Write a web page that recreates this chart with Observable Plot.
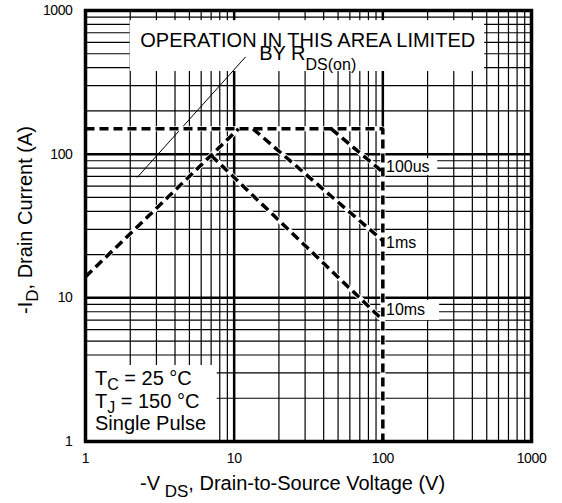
<!DOCTYPE html>
<html>
<head>
<meta charset="utf-8">
<script src="https://cdn.jsdelivr.net/npm/d3@7"></script>
<script src="https://cdn.jsdelivr.net/npm/@observablehq/plot@0.6"></script>
<style>
  html, body { margin: 0; padding: 0; background: #fff; }
  #chart svg text { white-space: pre; }
</style>
</head>
<body>
<div id="chart"></div>
<script>
// ---- axis / grid values ----
const decades = [1, 10, 100, 1000];
const minorMultipliers = [2, 3, 4, 5, 6, 7, 8, 9];
const xTicks = [1, 10, 100, 1000];
const yTicks = [1, 10, 100, 1000];

// ---- SOA boundary curves (V in volts, I in amps) ----
const limitV = [1, 100, 100];
const limitI = [150, 150, 1];
const rdsV = [1, 10.7];
const rdsI = [14, 150];
const ms10V = [7, 100];
const ms10I = [98, 7];
const ms1V = [13.4, 100];
const ms1I = [150, 25];
const us100V = [45, 100];
const us100I = [150, 75];

// ---- leader line for R_DS(on) note ----
const leaderV = [2.23, 11.9];
const leaderI = [69, 474];

// ---- curve labels ----
const curveLabels = ["100us", "1ms", "10ms"];
const curveLabelV = [105, 105, 105];
const curveLabelI = [82, 24.1, 8.2];
const labelBoxV1 = [102, 102, 102];
const labelBoxV2 = [234, 160, 241];
const labelBoxI1 = [93, 27.6, 9.6];
const labelBoxI2 = [71, 21, 6.95];

// ---- annotation boxes ----
const noteBoxV = [2.0, 484];
const noteBoxI = [850, 376];
const condBoxV = [1, 7.69];
const condBoxI = [1, 3.38];

// ---- annotation text anchors ----
const noteLine1 = "OPERATION IN THIS AREA LIMITED";
const noteV = 31.5;
const noteI = [552, 449];
const condV = 1.167;
const condI = [2.456, 1.71, 1.193];

// build tables
const minorValues = decades.slice(0, 3).flatMap(d => minorMultipliers.map(m => m * d));
const series = [
  {name: "limit", v: limitV, i: limitI},
  {name: "rds", v: rdsV, i: rdsI},
  {name: "10ms", v: ms10V, i: ms10I},
  {name: "1ms", v: ms1V, i: ms1I},
  {name: "100us", v: us100V, i: us100I}
];
const curveRows = series.flatMap(s => s.v.map((v, k) => ({name: s.name, v, i: s.i[k]})));
const leaderRows = leaderV.map((v, k) => ({v, i: leaderI[k]}));
const labelRows = curveLabels.map((t, k) => ({t, v: curveLabelV[k], i: curveLabelI[k]}));
const boxRows = [
  {x1: noteBoxV[0], x2: noteBoxV[1], y1: noteBoxI[0], y2: noteBoxI[1]},
  {x1: condBoxV[0], x2: condBoxV[1], y1: condBoxI[0], y2: condBoxI[1]},
  ...curveLabels.map((t, k) => ({x1: labelBoxV1[k], x2: labelBoxV2[k], y1: labelBoxI1[k], y2: labelBoxI2[k]}))
];

const FONT = "Arial, 'Liberation Sans', sans-serif";

const chart = Plot.plot({
  width: 562,
  height: 503,
  marginLeft: 85,
  marginRight: 31,
  marginTop: 10,
  marginBottom: 62,
  style: {fontFamily: FONT, fontSize: "14px", color: "#000", background: "#fff"},
  x: {type: "log", domain: [1, 1000], ticks: xTicks, tickFormat: d => String(d), label: null, tickSize: 0, tickPadding: 12},
  y: {type: "log", domain: [1, 1000], ticks: yTicks, tickFormat: d => String(d), label: null, tickSize: 0, tickPadding: 13},
  marks: [
    Plot.ruleX(minorValues, {stroke: "#000", strokeWidth: 1.2}),
    Plot.ruleY(minorValues, {stroke: "#000", strokeWidth: 1.2}),
    Plot.ruleX(decades, {stroke: "#000", strokeWidth: 2.5}),
    Plot.ruleY(decades, {stroke: "#000", strokeWidth: 2.5}),
    Plot.rect(boxRows, {x1: "x1", x2: "x2", y1: "y1", y2: "y2", fill: "#fff"}),
    Plot.line(leaderRows, {x: "v", y: "i", stroke: "#000", strokeWidth: 1}),
    Plot.line(curveRows, {x: "v", y: "i", z: "name", stroke: "#fff", strokeWidth: 5, strokeLinecap: "butt", strokeLinejoin: "miter"}),
    Plot.line(curveRows, {x: "v", y: "i", z: "name", stroke: "#000", strokeWidth: 3.5, strokeDasharray: "9,5", strokeLinecap: "butt", strokeLinejoin: "miter"}),
    Plot.text(labelRows, {x: "v", y: "i", text: "t", textAnchor: "start", fontSize: 16, fill: "#000"}),
    Plot.frame({stroke: "#000", strokeWidth: 3.5})
  ]
});

document.getElementById("chart").appendChild(chart);

const svg = d3.select(chart);
svg.selectAll("g[aria-label='x-axis tick label'] text, g[aria-label='y-axis tick label'] text")
  .attr("letter-spacing", "-0.4");

const sx = chart.scale("x");
const sy = chart.scale("y");
const g = svg.append("g").attr("font-family", FONT).attr("fill", "#000");

function richText(parent, x, y, parts, size, subSize, subShift, anchor, transform) {
  const t = parent.append("text")
    .attr("x", x).attr("y", y)
    .attr("font-size", size)
    .attr("text-anchor", anchor || "start")
    .attr("fill", "#000")
    .style("white-space", "pre");
  if (transform) t.attr("transform", transform);
  let shifted = 0;
  for (const [s, sub] of parts) {
    const ts = t.append("tspan").text(s);
    if (sub) {
      ts.attr("font-size", subSize).attr("dy", subShift - shifted);
      shifted = subShift;
    } else if (shifted) {
      ts.attr("dy", -shifted);
      shifted = 0;
    }
  }
  return t;
}

// R_DS(on) note
richText(g, sx.apply(noteV), sy.apply(noteI[0]), [[noteLine1, false]], 20, 16, 0, "middle");
richText(g, sx.apply(noteV), sy.apply(noteI[1]), [["BY R", false], ["DS(on)", true]], 20, 16, 10, "middle");

// test conditions
richText(g, sx.apply(condV), sy.apply(condI[0]), [["T", false], ["C", true], [" = 25 \u00B0C", false]], 20, 16, 5);
richText(g, sx.apply(condV), sy.apply(condI[1]), [["T", false], ["J", true], [" = 150 \u00B0C", false]], 20, 16, 5);
richText(g, sx.apply(condV), sy.apply(condI[2]), [["Single Pulse", false]], 20, 16, 0);

// axis titles
richText(g, 140, 490, [["-V", false], [" DS", true], [", Drain-to-Source Voltage (V)", false]], 20, 17, 7);
richText(g, 0, 0, [["-I", false], ["D", true], [", Drain Current (A)", false]], 20, 17, 6, "middle", "translate(32,220) rotate(-90)");
</script>
</body>
</html>
